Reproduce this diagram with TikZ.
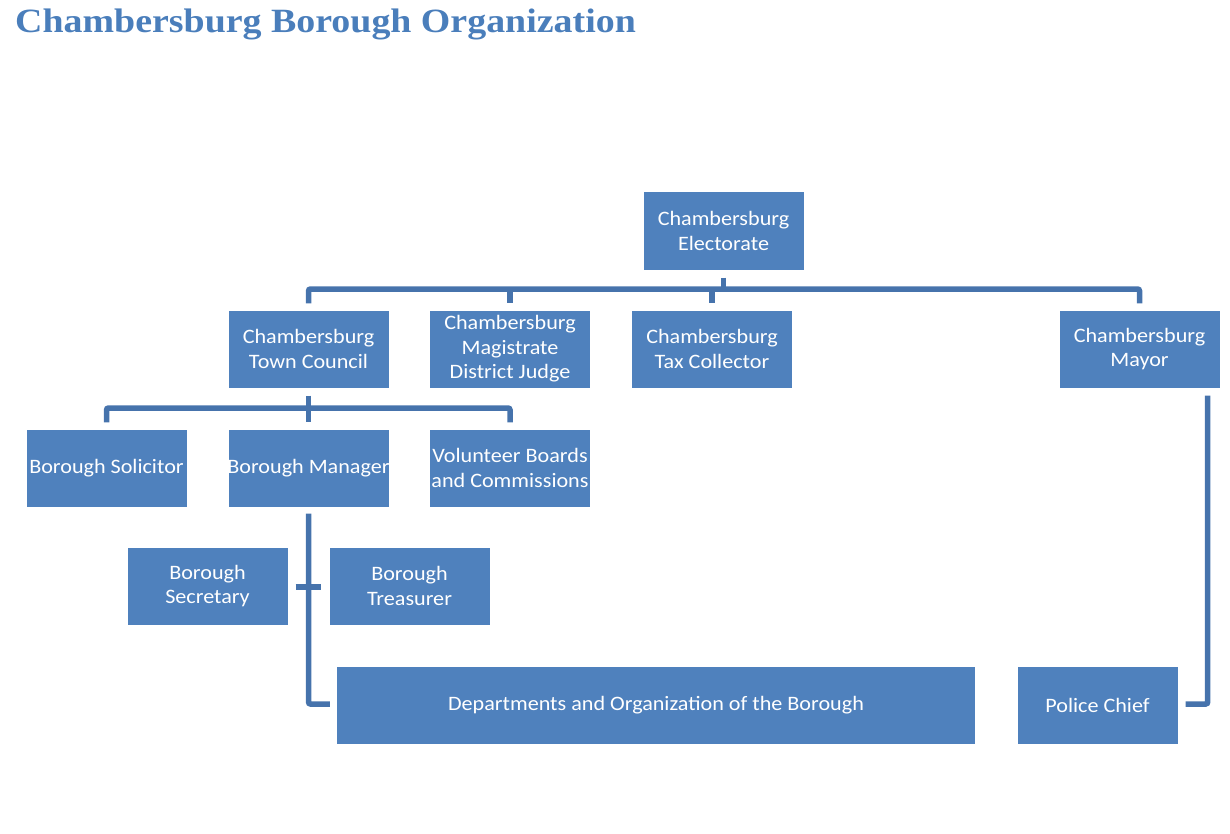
\documentclass[tikz,border=0pt]{standalone}
\usepackage{fontspec}
\newfontfamily\boxfont[FakeStretch=1.08]{Carlito}
\newfontfamily\titlefont[FakeStretch=1.115]{Liberation Serif}
\definecolor{boxblue}{HTML}{4F81BD}
\definecolor{lineblue}{HTML}{4673AC}
\definecolor{titleblue}{HTML}{4A7EBB}
\tikzset{
  orgbox/.style={fill=boxblue, draw=none, minimum width=160pt, minimum height=77pt,
    inner sep=0pt, align=center, text=white, font=\boxfont\fontsize{20.5}{24.5}\selectfont},
  conn/.style={draw=lineblue, line width=5.5pt, rounded corners=2pt}
}
\begin{document}
\begin{tikzpicture}[x=1pt,y=-1pt]
\useasboundingbox (0,0) rectangle (1230,834);
\node[anchor=base west, text=titleblue, font=\titlefont\bfseries\fontsize{34}{38}\selectfont, inner sep=0pt] (title) at (15,33) {Chambersburg Borough Organization};

\node[orgbox] (elec) at (723.5,231) {Chambersburg\\Electorate};
\node[orgbox] (council) at (308.5,349) {Chambersburg\\Town Council};
\node[orgbox] (magi) at (510,349) {Chambersburg\\Magistrate\\District Judge};
\node[orgbox] (tax) at (712,349) {Chambersburg\\Tax Collector};
\node[orgbox] (mayor) at (1139.5,349) {Chambersburg\\Mayor};
\node[orgbox] (solic) at (106.5,468) {\makebox[150pt]{Borough Solicitor}};
\node[orgbox] (manager) at (308.5,468) {\makebox[150pt]{Borough Manager}};
\node[orgbox] (volun) at (510,468) {Volunteer Boards\\and Commissions};
\node[orgbox] (secr) at (207.5,586) {Borough\\Secretary};
\node[orgbox] (treas) at (409.5,586) {Borough\\Treasurer};
\node[orgbox, minimum width=638pt] (dept) at (656,705) {Departments and Organization of the Borough};
\node[orgbox] (police) at (1097.5,705) {Police Chief};

\coordinate (topbar) at (0,289);
\coordinate (midbar) at (0,408);
\coordinate (lowbar) at (0,704);
\coordinate (crossy) at (0,587);

% top tree
\draw[conn] ([yshift=-8pt]elec.south) -- (elec.south |- topbar);
\draw[conn] ([yshift=7pt]council.north) -- (council.north |- topbar) -- (mayor.north |- topbar) -- ([yshift=7pt]mayor.north);
\draw[conn] (magi.north |- topbar) -- ([yshift=7pt]magi.north);
\draw[conn] (tax.north |- topbar) -- ([yshift=7pt]tax.north);

% council tree
\draw[conn] ([yshift=-8pt]council.south) -- (council.south |- midbar);
\draw[conn] ([yshift=7pt]solic.north) -- (solic.north |- midbar) -- (volun.north |- midbar) -- ([yshift=7pt]volun.north);
\draw[conn] (manager.north |- midbar) -- ([yshift=7pt]manager.north);

% manager tree
\draw[conn] ([yshift=-7pt]manager.south) -- (manager.south |- lowbar) -- ([xshift=-7pt]dept.west |- lowbar);
\draw[conn] ([xshift=8pt]secr.east |- crossy) -- ([xshift=-8pt]treas.west |- crossy);

% mayor tree
\draw[conn] ([xshift=-12pt,yshift=-8pt]mayor.south east) -- ([xshift=-12pt]mayor.south east |- lowbar) -- ([xshift=8pt]police.east |- lowbar);
\end{tikzpicture}
\end{document}
